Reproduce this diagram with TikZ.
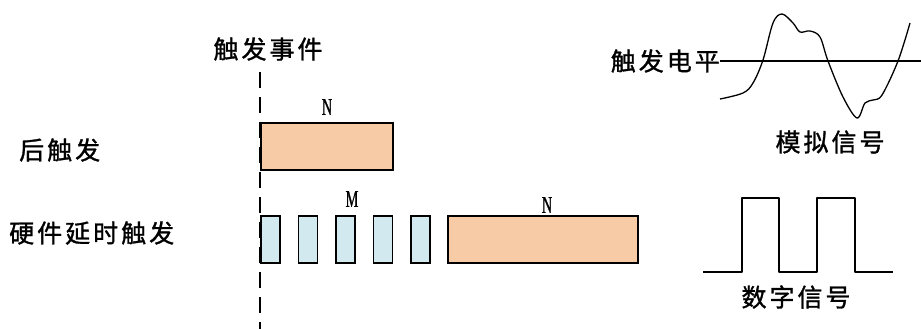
\documentclass[tikz,border=0pt]{standalone}
\usepackage{fontspec}
\newfontfamily\cjk[LetterSpace=12,FakeBold=1.3]{Noto Sans CJK SC}
\newfontfamily\narrowserif[FakeStretch=0.6,FakeBold=0.8]{Liberation Serif}
\setmainfont{Liberation Serif}
\definecolor{peach}{HTML}{F8CBA7}
\definecolor{paleblue}{HTML}{D2E9EF}
\begin{document}
\begin{tikzpicture}[x=1pt,y=-1pt,
  lbl/.style={font=\cjk\fontsize{25}{27}\selectfont, inner sep=0pt},
  letter/.style={font=\narrowserif\fontsize{24}{25}\selectfont, inner sep=0pt},
  nbox/.style={draw=black, line width=1.6pt, fill=peach, inner sep=0pt},
  mbox/.style={draw=black, line width=1.6pt, fill=paleblue, inner sep=0pt, minimum width=19pt, minimum height=47pt},
  sig/.style={line width=1.3pt, line join=round},
  evline/.style={line width=1.5pt, dash pattern=on 16pt off 9pt}]
\useasboundingbox (0,0) rectangle (921,329);
% trigger event
\node[lbl] (ev) at (268,49) {触发事件};
\coordinate (evtop) at (260,72);
\coordinate (evbot) at (260,329);
% post trigger
\node[lbl, anchor=west] (post) at (19,150) {后触发};
\node[nbox, minimum width=132pt, minimum height=47pt, anchor=north west] (n1) at (260,122) {};
\node[letter] (n1l) at (327,107) {N};
% hardware delay trigger
\node[lbl, anchor=west] (hw) at (9,233) {硬件延时触发};
\node[mbox, anchor=north west] (m1) at (260,215) {};
\node[mbox, anchor=north west] (m2) at (297.5,215) {};
\node[mbox, anchor=north west] (m3) at (335,215) {};
\node[mbox, anchor=north west] (m4) at (372.5,215) {};
\node[mbox, anchor=north west] (m5) at (410,215) {};
\node[letter] (ml) at (352,199) {M};
\node[nbox, minimum width=190pt, minimum height=47pt, anchor=north west] (n2) at (447,215) {};
\node[letter] (n2l) at (547,205) {N};
\draw[evline] (evtop) -- (evbot);
% analog signal
\node[lbl, anchor=east] (lvl) at (720,61) {触发电平};
\coordinate (lvlend) at (921,61);
\draw[line width=1.6pt] (lvl.east) -- (lvlend);
\draw[sig] plot[smooth, tension=0.55] coordinates {(720,99) (743,93) (753,83) (763,60) (773,23) (782,14) (793,23) (800,32) (810,31) (820,37) (828,61) (843,97) (857,118) (865,103) (873,100) (882,95) (898,61) (910,23)};
\node[lbl] (ana) at (830,142) {模拟信号};
% digital signal
\draw[sig] (703,272) -- (742,272) -- (742,198) -- (779,198) -- (779,272) -- (817,272) -- (817,198) -- (855,198) -- (855,272) -- (893,272);
\node[lbl] (dig) at (796,297) {数字信号};
\end{tikzpicture}
\end{document}
